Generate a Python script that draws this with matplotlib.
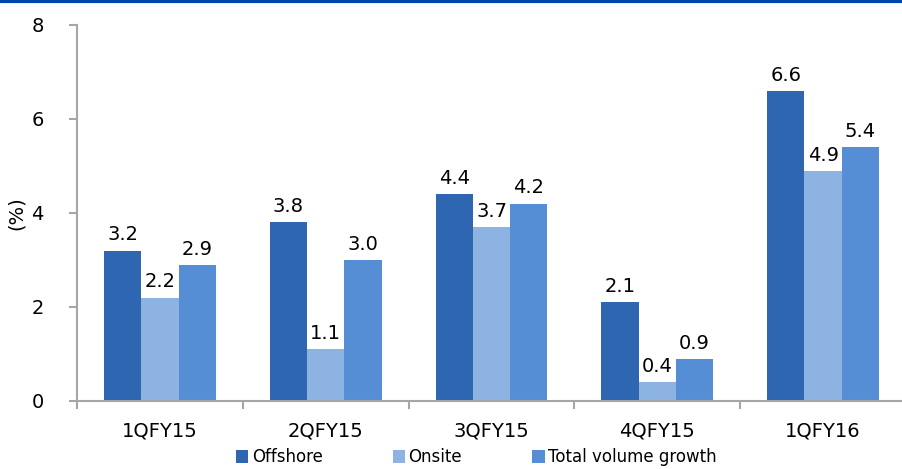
import matplotlib.pyplot as plt
import numpy as np
from matplotlib.lines import Line2D

quarters = ["1QFY15", "2QFY15", "3QFY15", "4QFY15", "1QFY16"]
offshore = [3.2, 3.8, 4.4, 2.1, 6.6]
onsite = [2.2, 1.1, 3.7, 0.4, 4.9]
total = [2.9, 3.0, 4.2, 0.9, 5.4]

series = [("Offshore", offshore, "#2E66B1"),
          ("Onsite", onsite, "#8DB3E2"),
          ("Total volume growth", total, "#558ED5")]

plt.rcParams['font.family'] = ['DejaVu Sans']
fs = 14

fig = plt.figure(figsize=(9.03, 4.69), dpi=100)
ax = fig.add_axes([0.0853, 0.145, 0.918, 0.8017])

x = np.arange(len(quarters))
w = 0.225
for i, (name, vals, col) in enumerate(series):
    pos = x + (i - 1) * w
    ax.bar(pos, vals, w, color=col, label=name, zorder=2)
    for px, v in zip(pos, vals):
        ax.text(px, v + 0.13, f"{v:.1f}", ha="center", va="bottom", fontsize=fs)

ax.set_xlim(-0.5, len(quarters) - 0.5)
ax.set_ylim(0, 8)
ax.set_yticks([0, 2, 4, 6, 8])
ax.set_xticks(x)
ax.set_xticklabels(quarters, fontsize=fs)
ax.set_xticks(np.arange(-0.5, len(quarters), 1), minor=True)
ax.tick_params(axis="x", which="major", length=0, pad=15)
ax.tick_params(axis="x", which="minor", length=6, color="#A6A6A6", width=1.5)
ax.tick_params(axis="y", length=6, color="#A6A6A6", width=1.5, labelsize=fs, pad=18)
for s in ["top", "right"]:
    ax.spines[s].set_visible(False)
for s in ["left", "bottom"]:
    ax.spines[s].set_color("#A6A6A6")
    ax.spines[s].set_linewidth(1.5)
ax.set_ylabel("(%)", fontsize=fs, labelpad=4)

fig.legend(loc="lower left", bbox_to_anchor=(0.252, -0.012), ncol=3, frameon=False,
           fontsize=12, handlelength=0.75, handleheight=0.75, handletextpad=0.2,
           columnspacing=4.2, borderpad=0)

fig.add_artist(Line2D([0, 1], [0.997, 0.997], color="#0047AB", linewidth=3,
                      transform=fig.transFigure))

fig.savefig("out.png", dpi=100)
